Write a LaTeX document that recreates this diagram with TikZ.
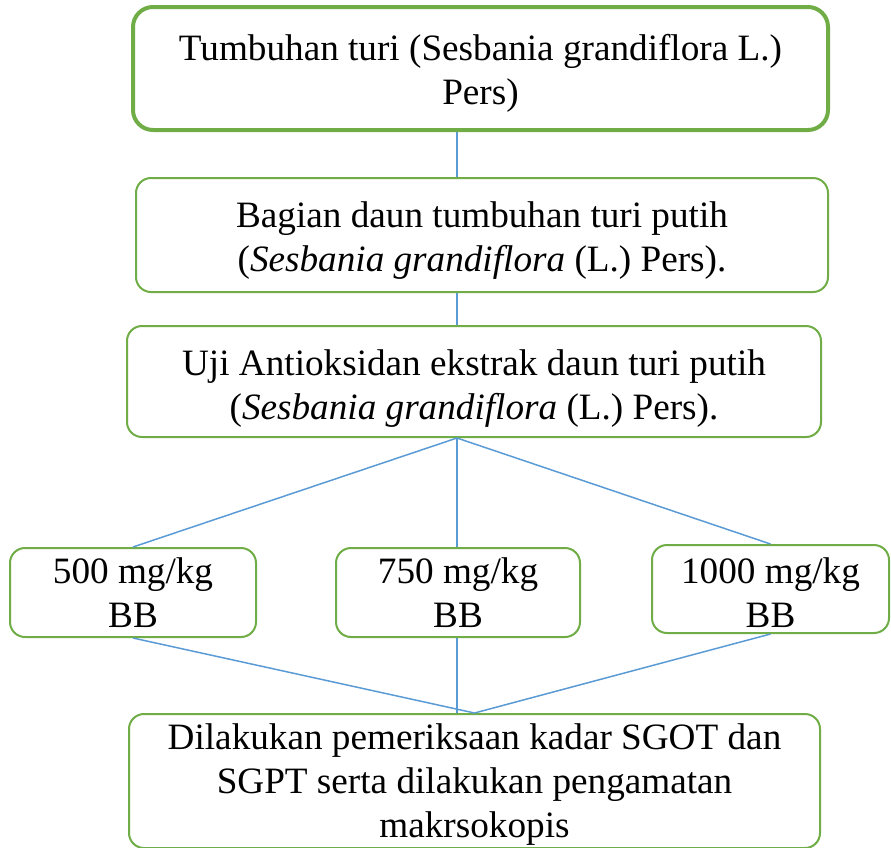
\documentclass[tikz,border=0pt]{standalone}
\usepackage{fontspec}
\setmainfont{Liberation Serif}
\definecolor{boxgreen}{HTML}{70AD47}
\definecolor{linkblue}{HTML}{5B9BD5}
\newcommand{\liftline}[1]{\rule{0pt}{#1pt}}
\begin{document}
\begin{tikzpicture}[x=1pt,y=-1pt,
  box/.style={draw=boxgreen,line width=2pt,rounded corners=15pt,fill=white,
    inner sep=0pt,align=center,font=\fontsize{37.2}{44}\selectfont},
  link/.style={draw=linkblue,line width=1.5pt}]
\useasboundingbox (0,0) rectangle (891,847);
\clip (0,0) rectangle (891,847);
\coordinate (spine) at (457,0);
\node[box,line width=4pt,rounded corners=20pt,minimum width=695pt,minimum height=123pt] (top) at (480.5,68.5)
  {\liftline{36}Tumbuhan turi (Sesbania grandiflora L.)\\Pers)};
\node[box,minimum width=692pt,minimum height=114pt] (second) at (482,235)
  {\liftline{36}Bagian daun tumbuhan turi putih\\(\textit{Sesbania grandiflora} (L.) Pers).};
\node[box,minimum width=694pt,minimum height=111pt] (third) at (474,381.5)
  {\liftline{40}Uji Antioksidan ekstrak daun turi putih\\(\textit{Sesbania grandiflora} (L.) Pers).};
\node[box,minimum width=246pt,minimum height=89pt] (b500) at (133,592.5)
  {500 mg/kg\\BB};
\node[box,minimum width=244pt,minimum height=89pt] (b750) at (458,592.5)
  {750 mg/kg\\BB};
\node[box,minimum width=237pt,minimum height=88pt] (b1000) at (770.5,589)
  {\liftline{34}1000 mg/kg\\BB};
\node[box,minimum width=691pt,minimum height=134pt] (bottom) at (474.5,781)
  {\liftline{32}Dilakukan pemeriksaan kadar SGOT dan\\SGPT serta dilakukan pengamatan\\makrsokopis};
\coordinate (apex) at (third.south -| spine);
\draw[link] (top.south -| spine) -- (second.north -| spine);
\draw[link] (second.south -| spine) -- (third.north -| spine);
\draw[link] (apex) -- (b500.north);
\draw[link] (apex) -- (b750.north -| spine);
\draw[link] (apex) -- (b1000.north);
\draw[link] (b500.south) -- (bottom.north);
\draw[link] (b750.south -| spine) -- (bottom.north -| spine);
\draw[link] (b1000.south) -- (bottom.north);
\end{tikzpicture}
\end{document}
